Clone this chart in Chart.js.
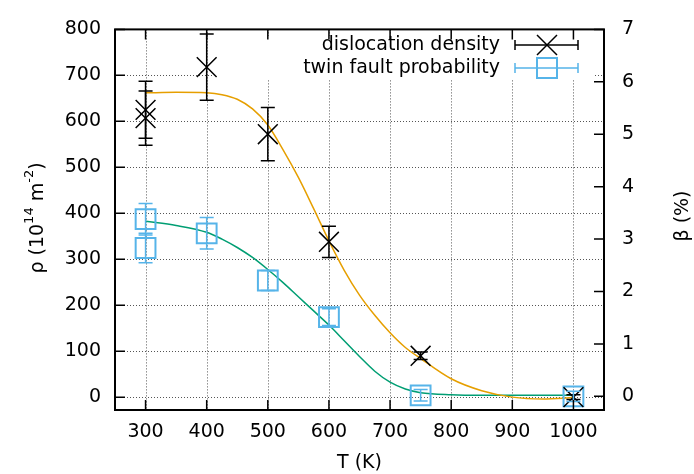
<!DOCTYPE html>
<html>
<head>
<meta charset="utf-8">
<script src="https://cdn.jsdelivr.net/npm/chart.js@4.4.0/dist/chart.umd.min.js"></script>
<style>
  html, body { margin: 0; padding: 0; background: #fff; }
  #wrap { width: 694px; height: 474px; }
</style>
</head>
<body>
<div id="wrap"><canvas id="c" width="694" height="474"></canvas></div>
<script>
// dislocation density (left axis, 10^14 m^-2)
const T_RHO = [300, 300, 400, 500, 600, 750, 1000];
const RHO = [625, 607, 718, 572, 338, 90, 0];
const RHO_ERR = [62, 59, 72, 58, 34, 8, 5];

// twin fault probability (right axis, %)
const T_BETA = [300, 300, 400, 500, 600, 750, 1000];
const BETA = [3.38, 2.83, 3.11, 2.21, 1.51, 0.02, 0.0];
const BETA_ERR = [0.3, 0.28, 0.3, 0.19, 0.16, 0.11, 0.1];

// fitted curves
const FIT_T = [300, 350, 400, 425, 450, 475, 500, 525, 550, 575, 600, 625, 650, 675, 700, 725, 750, 800, 850, 900, 950, 1000];
const FIT_RHO = [662, 663, 662, 658, 648, 627, 592, 538, 478, 410, 340, 276, 222, 178, 140, 108, 84, 40, 14, 0, -4, -1];
const FIT_BETA = [3.34, 3.26, 3.13, 3.0, 2.84, 2.65, 2.42, 2.17, 1.9, 1.63, 1.36, 1.06, 0.76, 0.48, 0.27, 0.14, 0.07, 0.03, 0.02, 0.02, 0.02, 0.02];

const X_TICKS = [300, 400, 500, 600, 700, 800, 900, 1000];
const Y_TICKS = [0, 100, 200, 300, 400, 500, 600, 700, 800];
const Y2_TICKS = [0, 1, 2, 3, 4, 5, 6, 7];

const FONT = "'DejaVu Sans', sans-serif";
const ORANGE = '#E69F00';
const GREEN = '#009E73';
const BLUE = '#56B4E9';

const pts = (xs, ys) => xs.map((x, i) => ({ x: x, y: ys[i] }));
const setTicks = (vals) => (s) => { s.ticks = vals.map(v => ({ value: v })); };
const plain = (v) => String(v);

// gnuplot-like frame: dotted grid, inward ticks, opaque key, error bars, titles
const gnuFrame = {
  id: 'gnuFrame',
  beforeDatasetsDraw(chart) {
    const { ctx, chartArea: a, scales } = chart;
    ctx.save();
    ctx.strokeStyle = '#555';
    ctx.lineWidth = 1;
    ctx.setLineDash([1, 2]);
    X_TICKS.forEach(v => {
      const x = Math.round(scales.x.getPixelForValue(v)) + 0.5;
      ctx.beginPath(); ctx.moveTo(x, a.top); ctx.lineTo(x, a.bottom); ctx.stroke();
    });
    Y_TICKS.forEach(v => {
      const y = Math.round(scales.y.getPixelForValue(v)) + 0.5;
      ctx.beginPath(); ctx.moveTo(a.left, y); ctx.lineTo(a.right, y); ctx.stroke();
    });
    ctx.setLineDash([]);
    // opaque key box
    ctx.fillStyle = '#fff';
    ctx.fillRect(212, 36, 381, 44);
    ctx.restore();
  },
  afterDatasetsDraw(chart) {
    const { ctx, chartArea: a, scales } = chart;
    ctx.save();

    // error bars
    const errBars = (xs, ys, es, scale, color) => {
      ctx.strokeStyle = color;
      ctx.lineWidth = 1.5;
      xs.forEach((t, i) => {
        const x = scales.x.getPixelForValue(t);
        const y1 = scale.getPixelForValue(ys[i] - es[i]);
        const y2 = scale.getPixelForValue(ys[i] + es[i]);
        ctx.beginPath();
        ctx.moveTo(x, y1); ctx.lineTo(x, y2);
        ctx.moveTo(x - 7, y1); ctx.lineTo(x + 7, y1);
        ctx.moveTo(x - 7, y2); ctx.lineTo(x + 7, y2);
        ctx.stroke();
      });
    };
    errBars(T_RHO, RHO, RHO_ERR, scales.y, '#000');
    errBars(T_BETA, BETA, BETA_ERR, scales.y2, BLUE);

    // border
    ctx.strokeStyle = '#000';
    ctx.lineWidth = 2;
    ctx.strokeRect(a.left, a.top, a.right - a.left, a.bottom - a.top);

    // inward ticks
    ctx.lineWidth = 1.5;
    ctx.beginPath();
    X_TICKS.forEach(v => {
      const x = scales.x.getPixelForValue(v);
      ctx.moveTo(x, a.bottom); ctx.lineTo(x, a.bottom - 10);
      ctx.moveTo(x, a.top); ctx.lineTo(x, a.top + 10);
    });
    Y_TICKS.forEach(v => {
      const y = scales.y.getPixelForValue(v);
      ctx.moveTo(a.left, y); ctx.lineTo(a.left + 10, y);
    });
    Y2_TICKS.forEach(v => {
      const y = scales.y2.getPixelForValue(v);
      ctx.moveTo(a.right, y); ctx.lineTo(a.right - 10, y);
    });
    ctx.stroke();

    // key
    ctx.font = '19px ' + FONT;
    ctx.fillStyle = '#000';
    ctx.textAlign = 'right';
    ctx.textBaseline = 'middle';
    ctx.fillText('dislocation density', 500, 45);
    ctx.fillText('twin fault probability', 500, 68);

    const keyBar = (y, color) => {
      ctx.strokeStyle = color;
      ctx.lineWidth = 1.5;
      ctx.beginPath();
      ctx.moveTo(515, y); ctx.lineTo(578, y);
      ctx.moveTo(515, y - 5); ctx.lineTo(515, y + 5);
      ctx.moveTo(578, y - 5); ctx.lineTo(578, y + 5);
      ctx.stroke();
    };
    keyBar(45, '#000');
    ctx.beginPath();
    ctx.moveTo(537, 35); ctx.lineTo(557, 55);
    ctx.moveTo(557, 35); ctx.lineTo(537, 55);
    ctx.stroke();
    keyBar(68, BLUE);
    ctx.lineWidth = 2;
    ctx.strokeRect(537, 58, 20, 20);

    // axis titles
    ctx.textAlign = 'center';
    ctx.fillText('T (K)', (a.left + a.right) / 2, 463);

    ctx.save();
    ctx.translate(683, 216);
    ctx.rotate(-Math.PI / 2);
    ctx.fillText('β (%)', 0, 0);
    ctx.restore();

    // ρ (10^14 m^-2) with superscripts
    const parts = [
      ['ρ (10', false], ['14', true], [' m', false], ['-2', true], [')', false]
    ];
    const big = '19px ' + FONT, small = '13px ' + FONT;
    let total = 0;
    parts.forEach(p => { ctx.font = p[1] ? small : big; total += ctx.measureText(p[0]).width; });
    ctx.save();
    ctx.translate(38, 218);
    ctx.rotate(-Math.PI / 2);
    ctx.textAlign = 'left';
    let x = -total / 2;
    parts.forEach(p => {
      ctx.font = p[1] ? small : big;
      ctx.fillText(p[0], x, p[1] ? -8 : 0);
      x += ctx.measureText(p[0]).width;
    });
    ctx.restore();

    ctx.restore();
  }
};

new Chart(document.getElementById('c').getContext('2d'), {
  type: 'scatter',
  data: {
    datasets: [
      {
        label: 'dislocation density',
        data: pts(T_RHO, RHO),
        yAxisID: 'y',
        pointStyle: 'crossRot',
        pointRadius: 14,
        borderColor: '#000',
        borderWidth: 1.5,
        showLine: false
      },
      {
        label: 'twin fault probability',
        data: pts(T_BETA, BETA),
        yAxisID: 'y2',
        pointStyle: 'rect',
        pointRadius: 14,
        borderColor: BLUE,
        backgroundColor: 'rgba(0,0,0,0)',
        borderWidth: 2,
        showLine: false
      },
      {
        label: 'fit rho',
        data: pts(FIT_T, FIT_RHO),
        yAxisID: 'y',
        showLine: true,
        borderColor: ORANGE,
        borderWidth: 1.5,
        pointRadius: 0,
        cubicInterpolationMode: 'monotone'
      },
      {
        label: 'fit beta',
        data: pts(FIT_T, FIT_BETA),
        yAxisID: 'y2',
        showLine: true,
        borderColor: GREEN,
        borderWidth: 1.5,
        pointRadius: 0,
        cubicInterpolationMode: 'monotone'
      }
    ]
  },
  options: {
    responsive: false,
    animation: false,
    devicePixelRatio: 1,
    layout: { padding: { top: 25, left: 0, right: 0, bottom: 0 } },
    scales: {
      x: {
        type: 'linear',
        position: 'bottom',
        min: 250,
        max: 1050,
        afterBuildTicks: setTicks(X_TICKS),
        afterFit: (s) => { s.height = 64; },
        grid: { display: false, drawTicks: false },
        border: { display: false },
        ticks: { color: '#000', padding: 11, callback: plain, font: { family: FONT, size: 19 } }
      },
      y: {
        type: 'linear',
        position: 'left',
        min: -28,
        max: 800,
        afterBuildTicks: setTicks(Y_TICKS),
        afterFit: (s) => { s.width = 115; },
        grid: { display: false, drawTicks: false },
        border: { display: false },
        ticks: { color: '#000', padding: 14, callback: plain, font: { family: FONT, size: 19 } }
      },
      y2: {
        type: 'linear',
        position: 'right',
        min: -0.26,
        max: 7,
        afterBuildTicks: setTicks(Y2_TICKS),
        afterFit: (s) => { s.width = 90; },
        grid: { display: false, drawTicks: false },
        border: { display: false },
        ticks: { color: '#000', padding: 18, callback: plain, font: { family: FONT, size: 19 } }
      }
    },
    plugins: {
      legend: { display: false },
      tooltip: { enabled: false }
    }
  },
  plugins: [gnuFrame]
});
</script>
</body>
</html>
